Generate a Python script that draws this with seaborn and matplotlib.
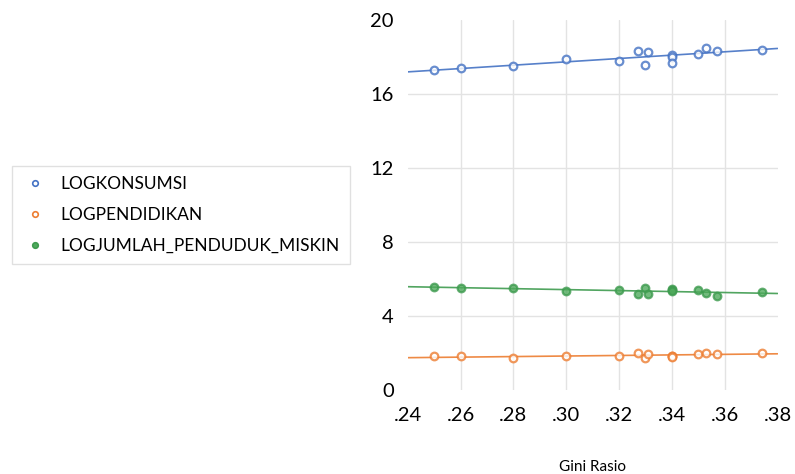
import numpy as np
import pandas as pd
import seaborn as sns
import matplotlib.pyplot as plt
from matplotlib.lines import Line2D

gini = [0.25, 0.26, 0.28, 0.30, 0.32, 0.327, 0.330, 0.331, 0.34, 0.34, 0.34, 0.35, 0.353, 0.357, 0.374]
log_konsumsi = [17.28, 17.39, 17.50, 17.89, 17.78, 18.34, 17.59, 18.25, 18.11, 18.02, 17.68, 18.18, 18.47, 18.34, 18.38]
log_pendidikan = [1.82, 1.84, 1.71, 1.84, 1.84, 2.00, 1.75, 1.95, 1.86, 1.84, 1.80, 1.93, 2.01, 1.96, 2.00]
log_miskin = [5.58, 5.53, 5.50, 5.37, 5.41, 5.21, 5.50, 5.17, 5.44, 5.40, 5.37, 5.41, 5.24, 5.10, 5.28]

series = ["LOGKONSUMSI", "LOGPENDIDIKAN", "LOGJUMLAH_PENDUDUK_MISKIN"]
colors = ["#4472C4", "#ED7D31", "#3E9B4F"]
faces = ["white", "white", "#4FAA5C"]

df = pd.DataFrame({"Gini": gini, series[0]: log_konsumsi, series[1]: log_pendidikan, series[2]: log_miskin})

sns.set_style("white")
plt.rcParams["font.family"] = ["Lato", "DejaVu Sans"]
plt.rcParams["text.color"] = "black"

fig = plt.figure(figsize=(7.95, 4.74), dpi=100)
ax = fig.add_axes([0.513, 0.177, 0.465, 0.781])
ax.set_xlim(0.24, 0.38)
ax.set_ylim(0, 20)

for name, c, fc in zip(series, colors, faces):
    sns.regplot(data=df, x="Gini", y=name, ax=ax, ci=None, truncate=False,
                scatter_kws=dict(s=30, facecolors=fc, edgecolors=c, linewidths=1.6, color=c, zorder=3),
                line_kws=dict(color=c, lw=1.2, alpha=0.9, zorder=2))

ax.set_xticks(np.arange(0.24, 0.381, 0.02))
ax.set_xticklabels([f"{t:.2f}"[1:] for t in np.arange(0.24, 0.381, 0.02)])
ax.set_yticks([0, 4, 8, 12, 16, 20])
ax.tick_params(axis="both", length=0, labelsize=14.5, colors="black")
ax.tick_params(axis="x", pad=12)
ax.tick_params(axis="y", pad=10)

for t in [0.26, 0.28, 0.30, 0.32, 0.34, 0.36]:
    ax.axvline(t, color="#E3E3E3", lw=1, zorder=0)
for t in [4, 8, 12, 16]:
    ax.axhline(t, color="#E3E3E3", lw=1, zorder=0)
for s in ax.spines.values():
    s.set_visible(False)

ax.set_ylabel("")
ax.set_xlabel("Gini Rasio", fontsize=11, labelpad=26, color="black")

handles = [Line2D([], [], ls="", marker="o", markersize=4, markerfacecolor=fc, markeredgecolor=c, markeredgewidth=1.2)
           for c, fc in zip(colors, faces)]
leg = fig.legend(handles, series, loc="upper left", bbox_to_anchor=(12 / 795, 1 - 166 / 474),
                 frameon=True, fancybox=False, fontsize=12.5, handletextpad=0.8, labelspacing=0.85,
                 borderpad=0.6, handlelength=1.4, borderaxespad=0, labelcolor="black")
leg.get_frame().set_edgecolor("#D9D9D9")
leg.get_frame().set_linewidth(1)

fig.savefig("out.png", dpi=100)
